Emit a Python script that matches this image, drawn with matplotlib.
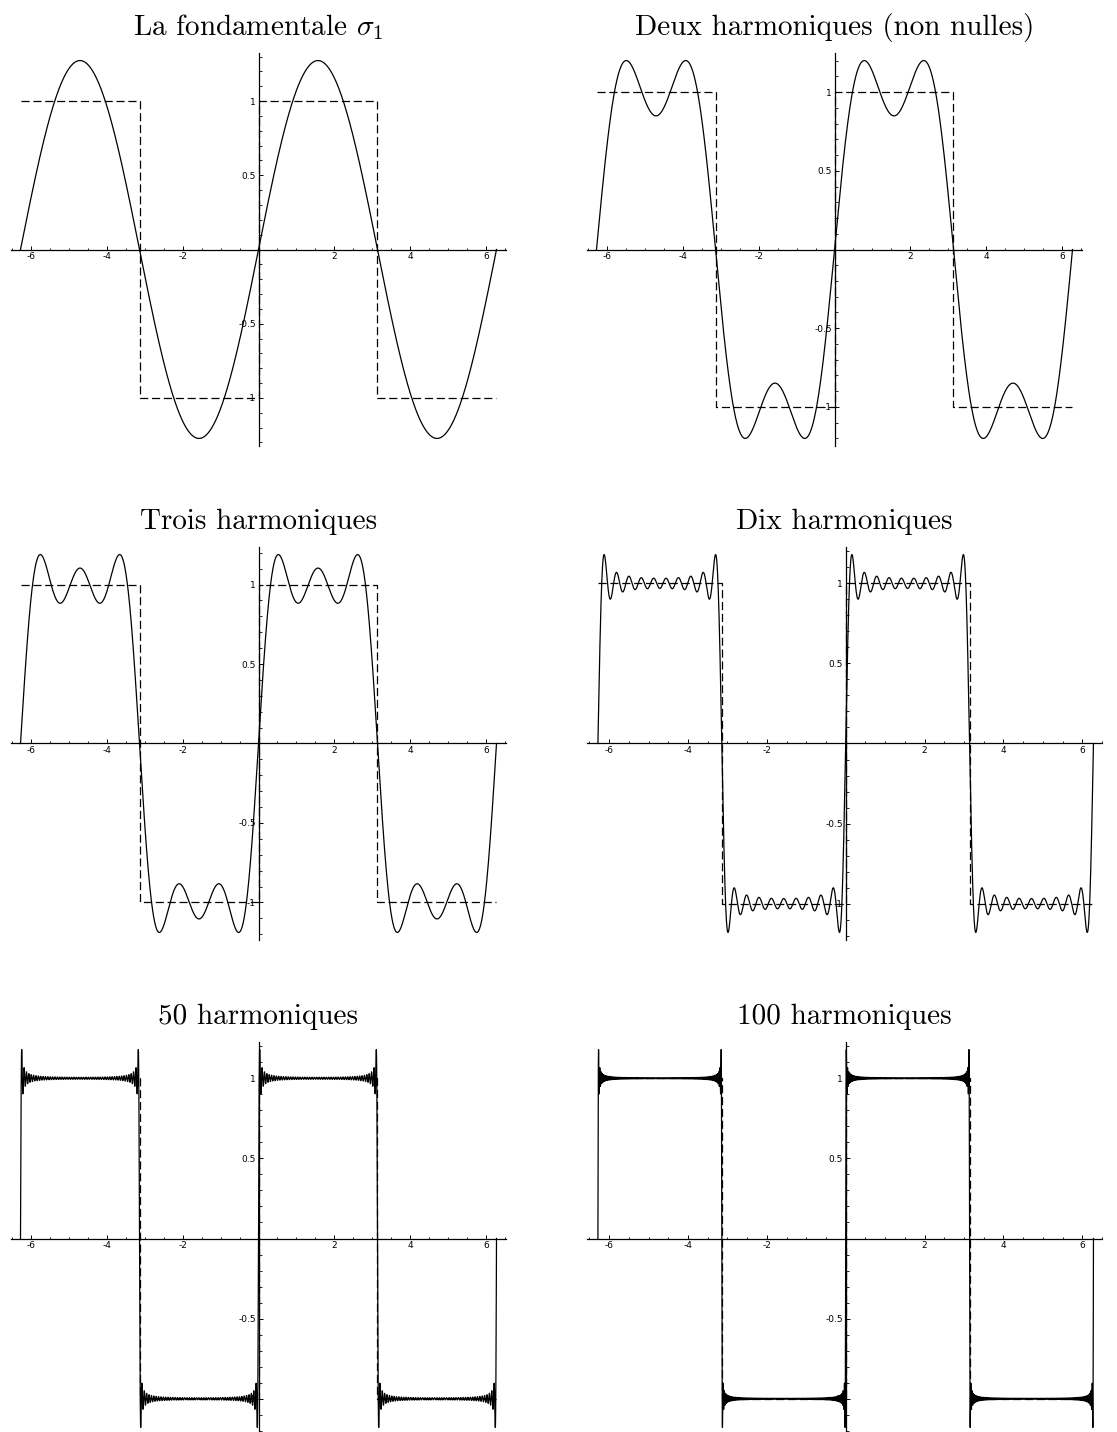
import numpy as np
import matplotlib
matplotlib.use('Agg')
import matplotlib.pyplot as plt
from matplotlib.ticker import MultipleLocator, FixedLocator

plt.rcParams['mathtext.fontset'] = 'cm'

# titres et nombre d'harmoniques (non nulles) de chaque somme partielle
titres = ['La fondamentale $\\sigma_1$', 'Deux harmoniques (non nulles)',
          'Trois harmoniques', 'Dix harmoniques',
          '50 harmoniques', '100 harmoniques']
n_harmoniques = [1, 2, 3, 10, 50, 100]

# signal carré (en pointillés), sommets de la ligne brisée
carre_x = [-2 * np.pi, -np.pi, -np.pi, 0, 0, np.pi, np.pi, 2 * np.pi]
carre_y = [1, 1, -1, -1, 1, 1, -1, -1]

xticks = [-6, -4, -2, 2, 4, 6]
yticks = [-1, -0.5, 0.5, 1]
ylabels = ['-1', '-0.5', '0.5', '1']

W, H = 1117, 1432
# position des axes en pixels (gauche, haut, droite, bas) et limites en x
cadres = [(11, 53, 506, 446), (587, 53, 1082, 446),
          (11, 547, 506, 940), (587, 547, 1102, 940),
          (11, 1042, 506, 1435), (587, 1042, 1102, 1435)]
xlims = [(-6.534, 6.534), (-6.534, 6.534),
         (-6.534, 6.534), (-6.56, 6.50),
         (-6.534, 6.534), (-6.56, 6.50)]


def somme_partielle(x, n):
    s = np.zeros_like(x)
    for k in range(n):
        p = 2 * k + 1
        s += 4 / (np.pi * p) * np.sin(p * x)
    return s


fig = plt.figure(figsize=(W / 100, H / 100), dpi=100)
x = np.linspace(-2 * np.pi, 2 * np.pi, 40001)

for i in range(6):
    g, h, d, b = cadres[i]
    ax = fig.add_axes([g / W, 1 - b / H, (d - g) / W, (b - h) / H])
    y = somme_partielle(x, n_harmoniques[i])
    ax.plot(x, y, color='black', lw=0.9)
    ax.plot(carre_x, carre_y, color='black', lw=0.9, dashes=(6.5, 3))
    ym = np.abs(y).max() * 1.04
    ax.set_xlim(*xlims[i])
    ax.set_ylim(-ym, ym)

    for s in ['top', 'right']:
        ax.spines[s].set_visible(False)
    ax.spines['left'].set_position('zero')
    ax.spines['bottom'].set_position('zero')
    for s in ['left', 'bottom']:
        ax.spines[s].set_linewidth(0.9)
    ax.patch.set_visible(False)

    ax.xaxis.set_major_locator(FixedLocator(xticks))
    ax.xaxis.set_minor_locator(MultipleLocator(0.5))
    ax.yaxis.set_major_locator(FixedLocator(yticks))
    ax.yaxis.set_minor_locator(MultipleLocator(0.1))
    ax.set_xticklabels([str(t) for t in xticks])
    ax.set_yticklabels(ylabels)
    ax.tick_params(which='major', direction='in', length=3, width=0.7,
                   labelsize=6.5, pad=2)
    ax.tick_params(which='minor', direction='in', length=1.8, width=0.6)

    ax.set_title(titres[i], fontname='cmr10', fontsize=21, y=1.0, pad=13)

fig.savefig('out.png', dpi=100)
